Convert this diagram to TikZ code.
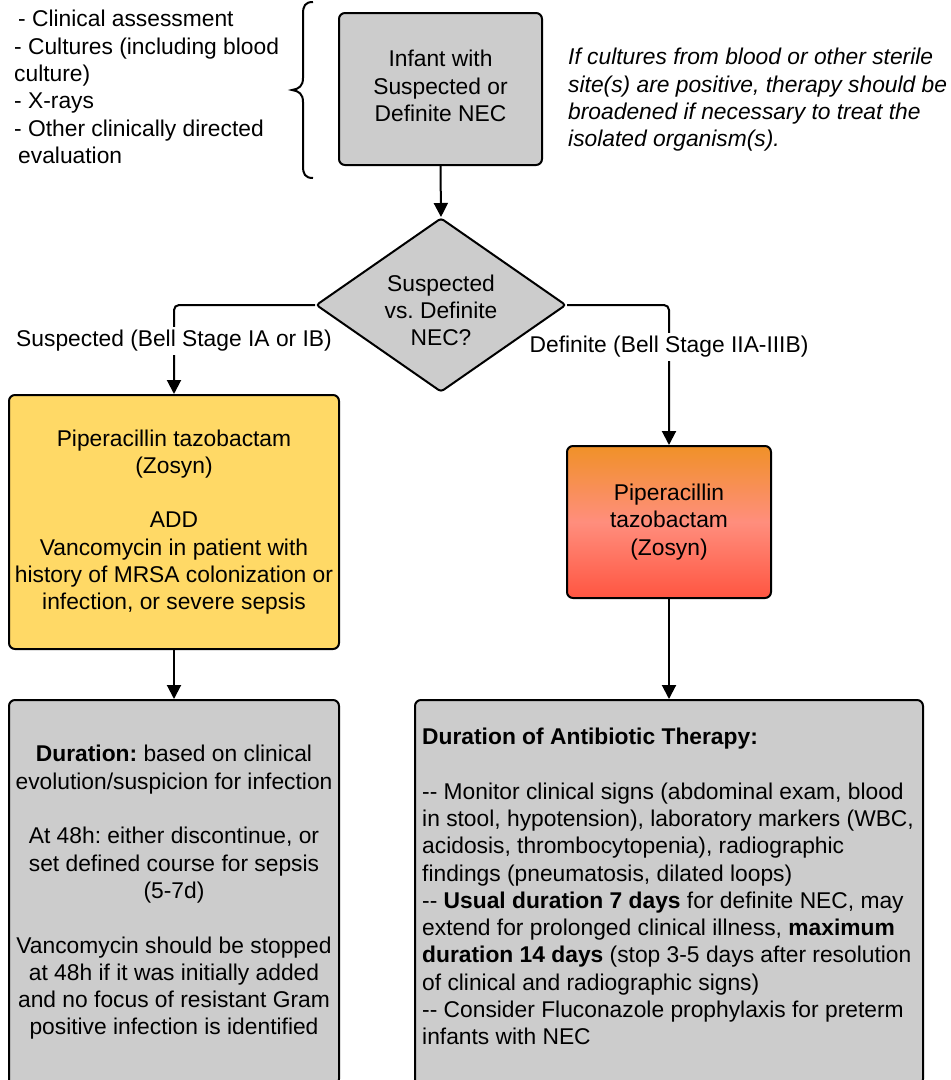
\documentclass[tikz,border=0pt]{standalone}
\usepackage{fontspec}
\setmainfont{Liberation Sans}
\usetikzlibrary{shapes.geometric,arrows.meta}
\definecolor{boxgray}{RGB}{204,204,204}
\definecolor{boxyellow}{RGB}{255,217,102}
\definecolor{ortop}{RGB}{240,145,40}
\definecolor{ormid}{RGB}{255,142,125}
\definecolor{orbot}{RGB}{255,85,65}
\begin{document}
\frenchspacing
\begin{tikzpicture}[x=1pt,y=-1pt,
  txt/.style={font=\fontsize{22.8}{27.3}\selectfont, inner sep=0pt},
  box/.style={draw=black, line width=2pt, rounded corners=6pt, inner sep=0pt},
  arr/.style={line width=2pt, -{Triangle[length=14pt,width=14pt]}},
  lab/.style={txt, fill=white, inner sep=3pt}
]
\useasboundingbox (0,0) rectangle (951,1080);

% top box
\node[box, fill=boxgray, minimum width=203pt, minimum height=152pt] (start) at (440.5,89) {};
\node[txt, align=center] (starttxt) at (440.5,86) {Infant with\\Suspected or\\Definite NEC};

% left list
\node[txt, align=left, anchor=west] (list) at (14,87)
 {\hspace*{4pt}- Clinical assessment\\- Cultures (including blood\\culture)\\- X-rays\\- Other clinically directed\\\hspace*{4pt}evaluation};

% brace
\draw[line width=2pt] (313,2) .. controls (305,2) and (303,6) .. (303,14)
  -- (303,78) .. controls (303,86) and (299,89) .. (292,90)
  .. controls (299,91) and (303,94) .. (303,102)
  -- (303,166) .. controls (303,174) and (305,178) .. (313,178);

% italic note
\node[txt, align=left, anchor=west, font=\fontsize{22.8}{27.3}\selectfont\itshape] (note) at (568,100)
 {If cultures from blood or other sterile\\site(s) are positive, therapy should be\\broadened if necessary to treat the\\isolated organism(s).};

% diamond
\node[draw=black, line width=2pt, fill=boxgray, diamond, aspect=1.44, minimum width=250pt, minimum height=174pt, inner sep=0pt, rounded corners=3pt] (dia) at (441,305) {};
\node[txt, align=center] (diatxt) at (441,310.5) {Suspected\\vs. Definite\\NEC?};

% yellow box
\node[box, fill=boxyellow, minimum width=330pt, minimum height=254pt, txt, align=center] (yel) at (174,522)
 {Piperacillin tazobactam\\(Zosyn)\\[27.3pt]ADD\\Vancomycin in patient with\\history of MRSA colonization or\\infection, or severe sepsis};

% orange box
\node[box, top color=ortop, bottom color=orbot, middle color=ormid, minimum width=204pt, minimum height=152pt, txt, align=center] (ora) at (669,522)
 {Piperacillin\\tazobactam\\(Zosyn)};

% bottom boxes
\node[box, fill=boxgray, minimum width=330pt, minimum height=385pt] (bl) at (174,892.5) {};
\node[txt, align=center] (bltxt) at (174,892.5)
 {\textbf{Duration:} based on clinical\\evolution/suspicion for infection\\[27.3pt]At 48h: either discontinue, or\\set defined course for sepsis\\(5-7d)\\[27.3pt]Vancomycin should be stopped\\at 48h if it was initially added\\and no focus of resistant Gram\\positive infection is identified};

\node[box, fill=boxgray, minimum width=508pt, minimum height=385pt] (br) at (669,892.5) {};
\node[txt, align=left, anchor=west] (brtxt) at (422,886.5)
 {\textbf{Duration of Antibiotic Therapy:}\\[27.3pt]-{}- Monitor clinical signs (abdominal exam, blood\\in stool, hypotension), laboratory markers (WBC,\\acidosis, thrombocytopenia), radiographic\\findings (pneumatosis, dilated loops)\\-{}- \textbf{Usual duration 7 days} for definite NEC, may\\extend for prolonged clinical illness, \textbf{maximum}\\\textbf{duration 14 days} (stop 3-5 days after resolution\\of clinical and radiographic signs)\\-{}- Consider Fluconazole prophylaxis for preterm\\infants with NEC};

% connectors
\draw[arr] (start.south) -- (dia.north);
\draw[arr, rounded corners=5pt] (dia.west) -| (yel.north);
\draw[arr, rounded corners=5pt] (dia.east) -| (ora.north);
\draw[arr] (yel.south) -- (bl.north);
\draw[arr] (ora.south) -- (br.north);

% labels
\node[lab] (lsus) at (174,341) {Suspected (Bell Stage IA or IB)};
\node[lab] (ldef) at (669,347) {Definite (Bell Stage IIA-IIIB)};
\end{tikzpicture}
\end{document}
